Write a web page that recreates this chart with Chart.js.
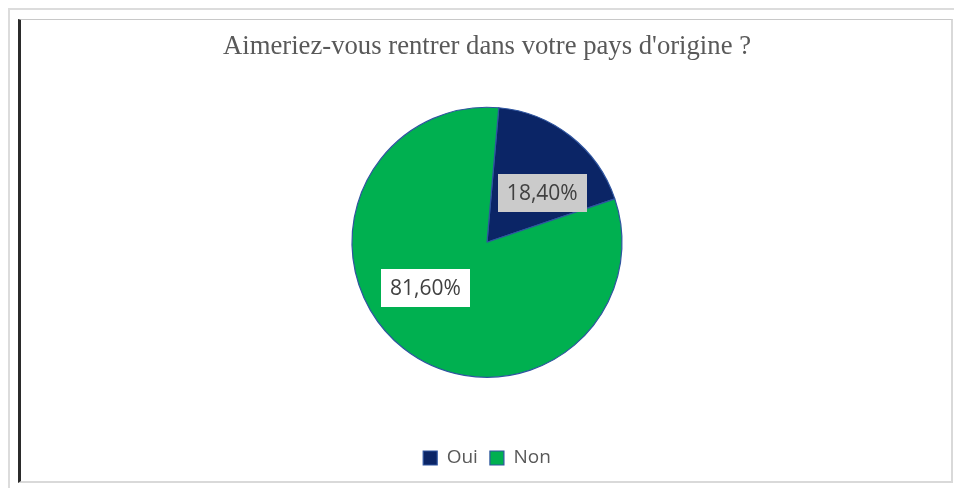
<!DOCTYPE html>
<html><head><meta charset="utf-8">
<script src="https://cdn.jsdelivr.net/npm/chart.js@4.4.1/dist/chart.umd.min.js"></script>
<style>
html,body{margin:0;padding:0;background:#fff;width:954px;height:488px;overflow:hidden;}
#outer{position:absolute;left:8px;top:8px;width:960px;height:500px;border-left:2px solid #dcdcdc;border-top:2px solid #dcdcdc;}
#inner{position:absolute;left:18px;top:19px;width:930px;height:461px;border-left:3px solid #2b2b2b;border-top:1px solid #c8c8c8;border-right:2px solid #d9d9d9;border-bottom:2px solid #d9d9d9;background:#fff;}
#wrap{position:absolute;left:0;top:0;width:954px;height:500px;}
</style>
</head><body>
<div id="outer"></div>
<div id="inner"></div>
<div id="wrap"><canvas id="c" width="954" height="500"></canvas></div>
<script>
const categories = ['Oui', 'Non'];
const values = [18.4, 81.6];
const sliceColors = ['#0b2566', '#00b050'];
const labelBoxColors = ['#cbcbcb', '#ffffff'];
const titleText = "Aimeriez-vous rentrer dans votre pays d'origine ?";

function fmt(v) { return v.toFixed(2).replace('.', ',') + '%'; }

const sliceLabels = {
  id: 'sliceLabels',
  afterDatasetsDraw(chart, args, opts) {
    const ctx = chart.ctx;
    const meta = chart.getDatasetMeta(0);
    ctx.save();
    ctx.font = opts.fontSize + 'px ' + opts.fontFamily;
    ctx.textAlign = 'center';
    ctx.textBaseline = 'middle';
    meta.data.forEach((arc, i) => {
      const p = arc.getProps(['x', 'y', 'startAngle', 'endAngle', 'outerRadius'], true);
      const a = (p.startAngle + p.endAngle) / 2 + opts.angleShift[i] * Math.PI / 180;
      const d = p.outerRadius * opts.radiusFrac[i];
      const cx = p.x + d * Math.cos(a);
      const cy = p.y + d * Math.sin(a);
      const txt = fmt(values[i]);
      const w = ctx.measureText(txt).width + opts.padX * 2;
      const h = opts.boxH;
      ctx.fillStyle = labelBoxColors[i];
      ctx.fillRect(Math.round(cx - w / 2), Math.round(cy - h / 2), Math.round(w), h);
      ctx.fillStyle = opts.color;
      ctx.fillText(txt, cx, cy + 1);
    });
    ctx.restore();
  }
};

new Chart(document.getElementById('c'), {
  type: 'pie',
  data: {
    labels: categories,
    datasets: [{
      data: values,
      backgroundColor: sliceColors,
      borderColor: '#2f55a0',
      borderWidth: 1.2,
      radius: 135
    }]
  },
  options: {
    responsive: false,
    animation: false,
    rotation: 5,
    layout: { padding: { left: 20, right: 0, top: 0, bottom: 22.5 } },
    plugins: {
      title: {
        display: true,
        text: titleText,
        color: '#595959',
        font: { family: 'Liberation Serif', size: 26.7, weight: 'normal', lineHeight: '2px' },
        padding: { top: 46, bottom: 0 }
      },
      legend: {
        position: 'bottom',
        labels: {
          color: '#595959',
          font: { family: 'Open Sans', size: 19 },
          boxWidth: 14,
          boxHeight: 14,
          padding: 12
        }
      },
      tooltip: { enabled: false },
      sliceLabels: {
        fontFamily: 'Open Sans',
        fontSize: 21,
        color: '#404040',
        padX: 9,
        boxH: 38,
        radiusFrac: [0.55, 0.57],
        angleShift: [10, 15]
      }
    }
  },
  plugins: [sliceLabels]
});
</script>
</body></html>
